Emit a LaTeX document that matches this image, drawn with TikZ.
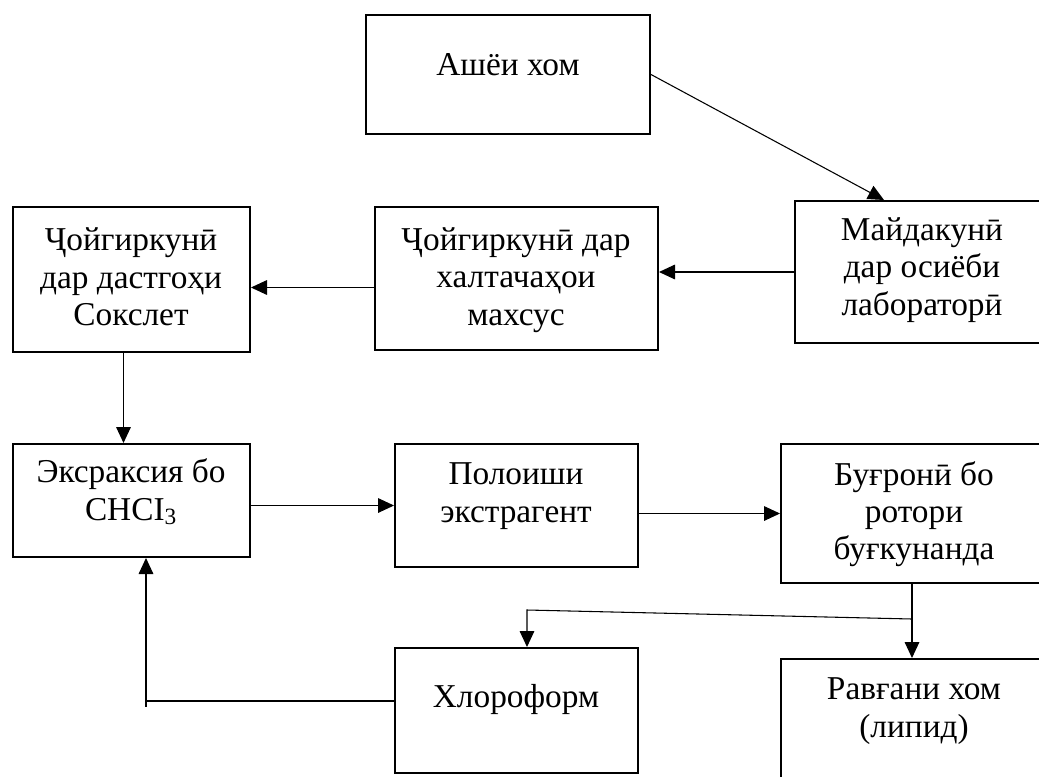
\documentclass[tikz,border=0pt]{standalone}
\usepackage{fontspec}
\setmainfont{Liberation Serif}
\usetikzlibrary{arrows.meta,calc}
\begin{document}
\begin{tikzpicture}[x=0.75pt,y=-0.75pt,
  box/.style={draw,line width=1.5pt,rectangle,inner sep=0pt},
  txt/.style={align=center,inner sep=0pt,font=\fontsize{25}{28}\selectfont},
  arr/.style={line width=0.8pt,-{Triangle[length=12pt,width=11pt]}},
  conn/.style={line width=0.8pt}]
\useasboundingbox (0,0) rectangle (1039,776);
\fill[white] (0,0) rectangle (1039,776);
% boxes
\node[box,minimum width=213pt,minimum height=89.25pt] (a) at (508,74.5) {};
\node[box,minimum width=189.75pt,minimum height=106.5pt] (b) at (921.5,272) {};
\node[box,minimum width=212.25pt,minimum height=107.25pt] (c) at (516.5,278.5) {};
\node[box,minimum width=177.75pt,minimum height=108.75pt] (d) at (131.5,279.5) {};
\node[box,minimum width=177.75pt,minimum height=84.75pt] (e) at (131.5,500.5) {};
\node[box,minimum width=182.25pt,minimum height=92.25pt] (f) at (516.5,505.5) {};
\node[box,minimum width=200.25pt,minimum height=104.25pt] (g) at (914.5,513.5) {};
\node[box,minimum width=182.25pt,minimum height=93.75pt] (h) at (516.5,710.5) {};
\node[box,minimum width=200.25pt,minimum height=105.75pt] (i) at (914.5,729.5) {};
% texts
\node[txt] (ta) at (508,65) {Ашёи хом};
\node[txt] (tb) at (922,270) {Майдакунӣ\\дар осиёби\\лабораторӣ};
\node[txt] (tc) at (516,280) {Ҷойгиркунӣ дар\\халтачаҳои\\махсус};
\node[txt] (td) at (131,277) {Ҷойгиркунӣ\\дар дастгоҳи\\Сокслет};
\node[txt] (te) at (131,492) {Эксраксия бо\\CHCI\textsubscript{3}};
\node[txt] (tf) at (516,496) {Полоиши\\экстрагент};
\node[txt] (tg) at (914,514) {Буғронӣ бо\\ротори\\буғкунанда};
\node[txt] (th) at (516,699) {Хлороформ};
\node[txt] (ti) at (914,711) {Равғани хом\\(липид)};
% connectors
\draw[arr] (a.east) -- ($(b.north west)+(90,0)$);
\draw[arr] (b.west) -- (c.east |- b.west);
\draw[arr] ($(c.west)+(0,9)$) -- (d.east |- {$(c.west)+(0,9)$});
\draw[arr] ($(d.south)+(-8,0)$) -- ($(e.north)+(-8,0)$);
\draw[arr] (e.east |- f.west) -- (f.west);
\draw[arr] (f.east |- g.west) -- (g.west);
\draw[arr] ($(g.south)+(-2.5,0)$) -- ($(i.north)+(-2.5,0)$);
\coordinate (j) at (912,619);
\coordinate (k) at (527,610);
\draw[arr] (j) -- (k) -- (k |- h.north);
\coordinate (m) at (146,701);
\draw[arr] (h.west |- m) -- (m) -- (m |- e.south);
\draw[conn] (m) -- ++(0,6);
\end{tikzpicture}
\end{document}
